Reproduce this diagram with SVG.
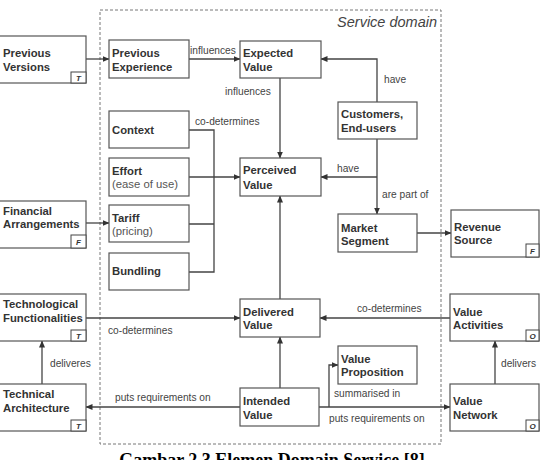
<svg xmlns="http://www.w3.org/2000/svg" width="545" height="460" viewBox="0 0 545 460">
<style>
.box{fill:#fff;stroke:#555;stroke-width:1.2}
.tag{fill:#fff;stroke:#444;stroke-width:1}
.t{font-family:"Liberation Sans",Arial,sans-serif;font-size:11.3px;font-weight:bold;fill:#333}
.n{font-family:"Liberation Sans",Arial,sans-serif;font-size:11.3px;fill:#555}
.lbl{font-family:"Liberation Sans",Arial,sans-serif;font-size:10.2px;fill:#444}
.tg{font-family:"Liberation Sans",Arial,sans-serif;font-size:8px;font-style:italic;font-weight:bold;fill:#333;text-anchor:middle}
.c{fill:none;stroke:#444;stroke-width:1.3}
</style>
<defs>
<marker id="ah" markerWidth="7" markerHeight="6" refX="6.5" refY="3" orient="auto" markerUnits="userSpaceOnUse">
<path d="M0,0 L7,3 L0,6 Z" fill="#333"/>
</marker>
</defs>
<rect width="545" height="460" fill="#fff"/>
<g id="service-domain">
<rect x="100" y="10" width="341" height="434" fill="none" stroke="#777" stroke-width="1" stroke-dasharray="3,2"/>
<text x="437" y="27" text-anchor="end" font-family="Liberation Sans,Arial,sans-serif" font-size="14.5" font-style="italic" fill="#444">Service domain</text>
</g>
<g id="connectors">
<path class="c" d="M86,59 H109" marker-end="url(#ah)"/>
<path class="c" d="M189,59 H240" marker-end="url(#ah)"/>
<path class="c" d="M280,78 V158" marker-end="url(#ah)"/>
<path class="c" d="M377,102 V59 H321" marker-end="url(#ah)"/>
<path class="c" d="M377,139 V214" marker-end="url(#ah)"/>
<path class="c" d="M377,177 H321" marker-end="url(#ah)"/>
<path class="c" d="M189,130 H214 V272 H189 M189,224 H214"/>
<path class="c" d="M189,177 H240" stroke-width="1.6" marker-end="url(#ah)"/>
<path class="c" d="M86,223 H109" marker-end="url(#ah)"/>
<path class="c" d="M417,233 H451" marker-end="url(#ah)"/>
<path class="c" d="M280,299 V196" marker-end="url(#ah)"/>
<path class="c" d="M86,318 H240" marker-end="url(#ah)"/>
<path class="c" d="M450,318 H320" marker-end="url(#ah)"/>
<path class="c" d="M280,388 V337" marker-end="url(#ah)"/>
<path class="c" d="M240,407 H86" marker-end="url(#ah)"/>
<path class="c" d="M42,384 V341" marker-end="url(#ah)"/>
<path class="c" d="M319,407 H450" marker-end="url(#ah)"/>
<path class="c" d="M329,407 V365 H338" marker-end="url(#ah)"/>
<path class="c" d="M495,384 V341" marker-end="url(#ah)"/>
<text class="lbl" x="190" y="54">influences</text>
<text class="lbl" x="225" y="95">influences</text>
<text class="lbl" x="384" y="83">have</text>
<text class="lbl" x="195" y="125">co-determines</text>
<text class="lbl" x="337" y="172">have</text>
<text class="lbl" x="382" y="198">are part of</text>
<text class="lbl" x="357" y="312">co-determines</text>
<text class="lbl" x="108" y="334">co-determines</text>
<text class="lbl" x="50" y="367">deliveres</text>
<text class="lbl" x="501" y="367">delivers</text>
<text class="lbl" x="334" y="397">summarised in</text>
<text class="lbl" x="115" y="401">puts requirements on</text>
<text class="lbl" x="329" y="422">puts requirements on</text>
</g>
<g id="previous-versions">
<rect class="box" x="-1" y="36" width="87" height="47"/>
<rect class="tag" x="71" y="72" width="15" height="11"/>
<text class="tg" x="78.5" y="80.5">T</text>
<text class="t" x="3" y="57">Previous</text>
<text class="t" x="3" y="71">Versions</text>
</g>
<g id="previous-experience">
<rect class="box" x="109" y="40" width="80" height="38"/>
<text class="t" x="112" y="57">Previous</text>
<text class="t" x="112" y="71">Experience</text>
</g>
<g id="expected-value">
<rect class="box" x="240" y="41" width="81" height="37"/>
<text class="t" x="243" y="57">Expected</text>
<text class="t" x="243" y="71">Value</text>
</g>
<g id="context">
<rect class="box" x="109" y="111" width="80" height="37"/>
<text class="t" x="112" y="134">Context</text>
</g>
<g id="effort">
<rect class="box" x="109" y="158" width="80" height="38"/>
<text class="t" x="112" y="175">Effort</text>
<text class="n" x="112" y="188">(ease of use)</text>
</g>
<g id="tariff">
<rect class="box" x="109" y="205" width="80" height="37"/>
<text class="t" x="112" y="222">Tariff</text>
<text class="n" x="112" y="235">(pricing)</text>
</g>
<g id="bundling">
<rect class="box" x="109" y="253" width="80" height="37"/>
<text class="t" x="112" y="275">Bundling</text>
</g>
<g id="perceived-value">
<rect class="box" x="240" y="158" width="81" height="38"/>
<text class="t" x="243" y="174">Perceived</text>
<text class="t" x="243" y="189">Value</text>
</g>
<g id="customers">
<rect class="box" x="338" y="102" width="79" height="37"/>
<text class="t" x="341" y="118">Customers,</text>
<text class="t" x="341" y="132">End-users</text>
</g>
<g id="market-segment">
<rect class="box" x="338" y="214" width="79" height="38"/>
<text class="t" x="341" y="232">Market</text>
<text class="t" x="341" y="245">Segment</text>
</g>
<g id="revenue-source">
<rect class="box" x="451" y="210" width="88" height="47"/>
<rect class="tag" x="526" y="244" width="13" height="13"/>
<text class="tg" x="532.5" y="253.5">F</text>
<text class="t" x="454" y="231">Revenue</text>
<text class="t" x="454" y="244">Source</text>
</g>
<g id="financial-arrangements">
<rect class="box" x="-1" y="201" width="87" height="47"/>
<rect class="tag" x="71" y="235" width="15" height="13"/>
<text class="tg" x="78.5" y="244.5">F</text>
<text class="t" x="3" y="215">Financial</text>
<text class="t" x="3" y="228">Arrangements</text>
</g>
<g id="technological-functionalities">
<rect class="box" x="-1" y="294" width="87" height="47"/>
<rect class="tag" x="71" y="330" width="15" height="11"/>
<text class="tg" x="78.5" y="338.5">T</text>
<text class="t" x="3" y="308">Technological</text>
<text class="t" x="3" y="322">Functionalities</text>
</g>
<g id="technical-architecture">
<rect class="box" x="-1" y="384" width="87" height="47"/>
<rect class="tag" x="71" y="420" width="15" height="11"/>
<text class="tg" x="78.5" y="428.5">T</text>
<text class="t" x="3" y="398">Technical</text>
<text class="t" x="3" y="412">Architecture</text>
</g>
<g id="delivered-value">
<rect class="box" x="240" y="299" width="80" height="38"/>
<text class="t" x="243" y="316">Delivered</text>
<text class="t" x="243" y="329">Value</text>
</g>
<g id="intended-value">
<rect class="box" x="240" y="388" width="79" height="38"/>
<text class="t" x="243" y="405">Intended</text>
<text class="t" x="243" y="419">Value</text>
</g>
<g id="value-proposition">
<rect class="box" x="338" y="346" width="79" height="38"/>
<text class="t" x="341" y="363">Value</text>
<text class="t" x="341" y="376">Proposition</text>
</g>
<g id="value-activities">
<rect class="box" x="450" y="294" width="89" height="47"/>
<rect class="tag" x="526" y="330" width="13" height="11"/>
<text class="tg" x="532.5" y="338.5">O</text>
<text class="t" x="453" y="316">Value</text>
<text class="t" x="453" y="329">Activities</text>
</g>
<g id="value-network">
<rect class="box" x="450" y="384" width="89" height="47"/>
<rect class="tag" x="526" y="420" width="13" height="11"/>
<text class="tg" x="532.5" y="428.5">O</text>
<text class="t" x="453" y="405">Value</text>
<text class="t" x="453" y="419">Network</text>
</g>
<text x="272" y="466" text-anchor="middle" font-family="Liberation Serif,Times New Roman,serif" font-size="18" font-weight="bold" fill="#000">Gambar 2.3 Elemen Domain Service [8]</text>
</svg>
